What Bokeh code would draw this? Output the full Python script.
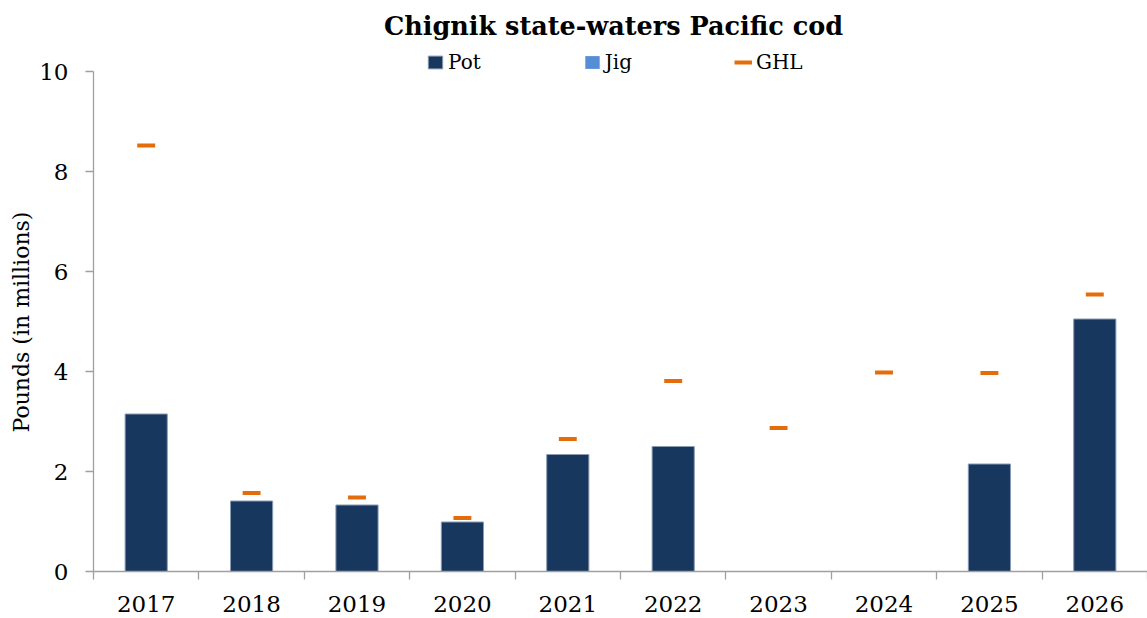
from bokeh.plotting import figure
from bokeh.models import (Range1d, FixedTicker, Legend, LegendItem, ColumnDataSource, Label, Title)
from bokeh.transform import dodge
from bokeh.embed import file_html
from bokeh.resources import INLINE

years = ["2017", "2018", "2019", "2020", "2021", "2022", "2023", "2024", "2025", "2026"]
pot = [3.15, 1.41, 1.33, 0.99, 2.34, 2.50, 0.0, 0.0, 2.15, 5.05]
jig = [0.0, 0.0, 0.0, 0.0, 0.0, 0.0, 0.0, 0.0, 0.0, 0.0]
ghl = [8.52, 1.57, 1.48, 1.07, 2.65, 3.81, 2.87, 3.98, 3.97, 5.54]
y_ticks = [0, 2, 4, 6, 8, 10]
y_max = 10
title_text = "Chignik state-waters Pacific cod"
y_label = "Pounds (in millions)"

FONT = "DejaVu Serif"
POT_C = "#17375e"
JIG_C = "#558ed5"
GHL_C = "#e46c0a"
AXIS_C = "#a0a0a0"

W, H = 1147, 618
LEFT, BOTTOM = 93, 47
PX_PER_UNIT = 50  # vertical pixels per million pounds
frame_h = H - BOTTOM
y_top = frame_h / PX_PER_UNIT

xpos = [i + 0.5 for i in range(len(years))]
jig_top = [a + b for a, b in zip(pot, jig)]
src = ColumnDataSource(dict(x=xpos, pot=pot, jig_top=jig_top, ghl=ghl))

p = figure(width=W, height=H, output_backend="svg", toolbar_location=None,
           x_range=Range1d(0, len(years)), y_range=Range1d(0, y_top),
           min_border_left=LEFT, min_border_right=0, min_border_top=0, min_border_bottom=BOTTOM)
p.outline_line_color = None
p.xgrid.visible = False
p.ygrid.visible = False
p.background_fill_color = "white"
p.border_fill_color = "white"

r_pot = p.vbar(x="x", top="pot", bottom=0, width=0.4, source=src,
               fill_color=POT_C, line_color="#8a9bb3", line_width=1)
r_jig = p.vbar(x="x", top="jig_top", bottom="pot", width=0.4, source=src,
               fill_color=JIG_C, line_color=None)
r_ghl = p.segment(x0=dodge("x", -0.085), x1=dodge("x", 0.085),
                  y0="ghl", y1="ghl", source=src, line_color=GHL_C, line_width=4, line_cap="butt")

# axes
xa = p.xaxis[0]
xa.ticker = FixedTicker(ticks=xpos, minor_ticks=list(range(len(years) + 1)))
xa.major_label_overrides = {x: y for x, y in zip(xpos, years)}
xa.major_tick_out = 0
xa.major_tick_in = 0
xa.minor_tick_out = 8
xa.minor_tick_in = 0
xa.minor_tick_line_color = AXIS_C
xa.minor_tick_line_width = 1.3
xa.axis_line_color = AXIS_C
xa.axis_line_width = 1.3
xa.major_label_text_font = FONT
xa.major_label_text_font_size = "23px"
xa.major_label_text_color = "black"
xa.major_label_standoff = 16

ya = p.yaxis[0]
ya.ticker = FixedTicker(ticks=y_ticks)
ya.bounds = (0, y_max)
ya.major_tick_out = 8
ya.major_tick_in = 0
ya.minor_tick_out = 0
ya.minor_tick_in = 0
ya.major_tick_line_color = AXIS_C
ya.major_tick_line_width = 1.3
ya.axis_line_color = AXIS_C
ya.axis_line_width = 1.3
ya.major_label_text_font = FONT
ya.major_label_text_font_size = "23px"
ya.major_label_text_color = "black"
ya.major_label_standoff = 17

# y-axis title, placed along the 0..y_max span of the axis
ylab = Title(text=y_label, align="left", offset=139, vertical_align="bottom",
             text_font=FONT, text_font_size="22px", text_font_style="normal",
             text_color="black", standoff=6)
p.add_layout(ylab, "left")

legend = Legend(items=[LegendItem(label="Pot", renderers=[r_pot]),
                       LegendItem(label="Jig", renderers=[r_jig]),
                       LegendItem(label="GHL", renderers=[r_ghl])],
                orientation="horizontal", location=(333, 497),
                glyph_width=18, glyph_height=16, label_standoff=4,
                spacing=102, padding=0, margin=0, border_line_color=None,
                background_fill_alpha=0,
                label_text_font=FONT, label_text_font_size="20px", label_text_color="black")
p.add_layout(legend, "center")

title = Label(x=520, y=frame_h - 25, x_units="screen", y_units="screen", text=title_text,
              text_align="center", text_baseline="alphabetic",
              text_font=FONT, text_font_size="25.5px", text_font_style="bold", text_color="black")
p.add_layout(title)

open("out.html", "w").write(file_html(p, INLINE))
